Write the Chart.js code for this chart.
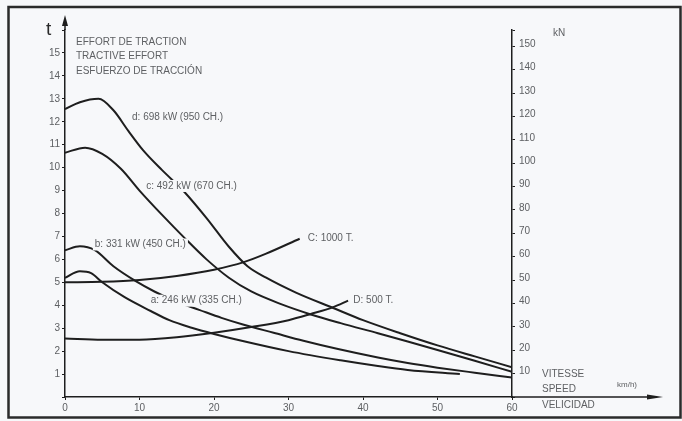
<!DOCTYPE html>
<html>
<head>
    <meta charset="UTF-8">
    <title>Effort de traction</title>
    <script src="https://cdn.jsdelivr.net/npm/chart.js"></script>
    <style>
        html, body {
            margin: 0;
            padding: 0;
            background-color: #f7f8fa;
        }
        #wrap {
            width: 682px;
            height: 421px;
        }
    </style>
</head>
<body>
    <div id="wrap"><canvas id="effortChart" width="682" height="421"></canvas></div>

    <script>
        var speedD = [0, 2, 4.5, 6.5, 8.5, 10.5, 13, 16, 19, 22, 24.5, 27, 31, 36, 40, 45, 50, 55, 60];
        var forceD = [12.55, 12.85, 13.0, 12.5, 11.6, 10.75, 9.9, 8.95, 7.8, 6.55, 5.7, 5.2, 4.55, 3.88, 3.35, 2.78, 2.25, 1.77, 1.3];

        var speedC = [0, 2.7, 5, 7.5, 10, 13, 16, 19, 22, 25, 29, 33, 37, 42, 46, 50, 55, 60];
        var forceC = [10.65, 10.87, 10.6, 9.95, 9.0, 7.95, 6.95, 6.0, 5.2, 4.6, 4.05, 3.6, 3.22, 2.78, 2.42, 2.05, 1.58, 1.1];

        var speedB = [0, 2, 4, 6.5, 9.5, 12, 15, 18, 21, 24, 28, 32, 36.5, 42, 46, 50, 55, 60];
        var forceB = [6.4, 6.57, 6.4, 5.7, 5.05, 4.6, 4.15, 3.8, 3.45, 3.15, 2.8, 2.45, 2.1, 1.72, 1.48, 1.28, 1.06, 0.85];

        var speedA = [0, 2, 3.5, 5, 8, 11.5, 14, 17, 20, 24, 30, 37, 42, 46, 53];
        var forceA = [5.2, 5.48, 5.4, 5.0, 4.35, 3.75, 3.35, 3.02, 2.75, 2.43, 2.0, 1.6, 1.35, 1.18, 1.0];

        // résistance du train : 1000 T et 500 T
        var speed1000 = [0, 5, 10, 15, 20, 24, 27, 31.5];
        var force1000 = [5.0, 5.02, 5.1, 5.28, 5.55, 5.88, 6.25, 6.9];

        var speed500 = [0, 5, 10, 15, 20, 25, 30, 33, 36, 38];
        var force500 = [2.55, 2.5, 2.5, 2.6, 2.8, 3.05, 3.35, 3.62, 3.92, 4.2];

        var titleLines = ['EFFORT DE TRACTION', 'TRACTIVE EFFORT', 'ESFUERZO DE TRACCIÓN'];
        var speedLines = ['VITESSE', 'SPEED', 'VELICIDAD'];

        // étiquettes des courbes : texte, vitesse, effort
        var curveLabels = [
            ['d: 698 kW (950 CH.)', 9.0, 12.2],
            ['c: 492 kW (670 CH.)', 10.9, 9.2],
            ['b: 331 kW (450 CH.)', 4.0, 6.65],
            ['a: 246 kW (335 CH.)', 11.5, 4.2],
            ['C: 1000 T.', 32.6, 6.9],
            ['D: 500 T.', 38.7, 4.2]
        ];

        var T_TO_KN = 9.81;
        var paper = '#f7f8fa';
        var ink = '#1e1e1e';
        var grey = '#5e6063';

        function pts(xs, ys) {
            return xs.map(function(x, i) { return { x: x, y: ys[i] }; });
        }

        function curve(xs, ys) {
            return {
                data: pts(xs, ys),
                borderColor: ink,
                borderWidth: 2,
                pointRadius: 0,
                fill: false,
                cubicInterpolationMode: 'monotone'
            };
        }

        var decor = {
            id: 'decor',
            beforeDraw: function(chart) {
                var c = chart.ctx;
                c.save();
                c.fillStyle = paper;
                c.fillRect(0, 0, chart.width, chart.height);
                c.restore();
            },
            afterDatasetsDraw: function(chart) {
                var c = chart.ctx;
                var sx = chart.scales.x, sy = chart.scales.y;
                var area = chart.chartArea;
                c.save();

                // étiquettes des courbes (fond papier pour couper le trait)
                c.font = '10px "Liberation Sans", Arial, sans-serif';
                c.textBaseline = 'middle';
                c.textAlign = 'left';
                curveLabels.forEach(function(l) {
                    var px = sx.getPixelForValue(l[1]);
                    var py = sy.getPixelForValue(l[2]);
                    var w = c.measureText(l[0]).width;
                    c.fillStyle = paper;
                    c.fillRect(px - 2, py - 6, w + 4, 12);
                    c.fillStyle = grey;
                    c.fillText(l[0], px, py);
                });

                // titre
                titleLines.forEach(function(t, i) {
                    c.fillText(t, 76, 42 + i * 14.5);
                });

                // axe vertical prolongé avec flèche
                c.strokeStyle = ink;
                c.fillStyle = ink;
                c.lineWidth = 1.5;
                c.beginPath();
                c.moveTo(area.left, area.top);
                c.lineTo(area.left, 24);
                c.stroke();
                c.beginPath();
                c.moveTo(area.left, 15);
                c.lineTo(area.left - 3, 26);
                c.lineTo(area.left + 3, 26);
                c.closePath();
                c.fill();

                // axe des vitesses prolongé avec flèche
                c.beginPath();
                c.moveTo(area.right, area.bottom);
                c.lineTo(650, area.bottom);
                c.stroke();
                c.beginPath();
                c.moveTo(663, area.bottom);
                c.lineTo(647, area.bottom - 2.5);
                c.lineTo(647, area.bottom + 2.5);
                c.closePath();
                c.fill();

                // unités
                c.fillStyle = '#2a2a2a';
                c.font = '19px "Liberation Sans", Arial, sans-serif';
                c.textBaseline = 'alphabetic';
                c.fillText('t', 46, 35);

                c.fillStyle = grey;
                c.font = '10px "Liberation Sans", Arial, sans-serif';
                c.textBaseline = 'middle';
                c.fillText('kN', 553, 33);
                speedLines.forEach(function(t, i) {
                    c.fillText(t, 542, 374 + i * 15.5);
                });
                c.font = '8px "Liberation Sans", Arial, sans-serif';
                c.fillText('km/h)', 617, 385);

                // cadre
                c.strokeStyle = '#2b2b2b';
                c.lineWidth = 2.5;
                c.strokeRect(8.5, 7, 672, 410.5);
                c.restore();
            }
        };

        var ctx = document.getElementById('effortChart').getContext('2d');
        var chart = new Chart(ctx, {
            type: 'line',
            data: {
                datasets: [
                    curve(speedD, forceD),
                    curve(speedC, forceC),
                    curve(speedB, forceB),
                    curve(speedA, forceA),
                    curve(speed1000, force1000),
                    curve(speed500, force500)
                ]
            },
            options: {
                responsive: false,
                animation: false,
                events: [],
                layout: { padding: { top: 30, left: 0, right: 0, bottom: 0 } },
                plugins: {
                    legend: { display: false },
                    tooltip: { enabled: false }
                },
                scales: {
                    x: {
                        type: 'linear',
                        position: 'bottom',
                        min: 0,
                        max: 60,
                        afterFit: function(s) { s.height = 24; },
                        ticks: {
                            stepSize: 10,
                            padding: 2,
                            color: grey,
                            font: { size: 10, family: '"Liberation Sans", Arial, sans-serif' }
                        },
                        grid: { drawOnChartArea: false, tickLength: 3, color: ink, lineWidth: 1 },
                        border: { color: ink, width: 1.5 }
                    },
                    y: {
                        position: 'left',
                        min: 0,
                        max: 16,
                        afterFit: function(s) { s.width = 65; },
                        ticks: {
                            stepSize: 1,
                            padding: 2,
                            color: grey,
                            font: { size: 10, family: '"Liberation Sans", Arial, sans-serif' },
                            callback: function(v) { return (v > 0 && v < 16) ? v : ''; }
                        },
                        grid: { drawOnChartArea: false, tickLength: 3, color: ink, lineWidth: 1 },
                        border: { color: ink, width: 1.5 }
                    },
                    y2: {
                        position: 'right',
                        min: 0,
                        max: 16 * T_TO_KN,
                        afterFit: function(s) { s.width = 170; },
                        ticks: {
                            stepSize: 10,
                            padding: 4,
                            labelOffset: -2,
                            color: grey,
                            font: { size: 10, family: '"Liberation Sans", Arial, sans-serif' },
                            callback: function(v) { return (v > 0 && v <= 150) ? v : ''; }
                        },
                        grid: { drawOnChartArea: false, tickLength: 3, color: ink, lineWidth: 1 },
                        border: { color: ink, width: 1.5 }
                    }
                }
            },
            plugins: [decor]
        });
    </script>
</body>
</html>
